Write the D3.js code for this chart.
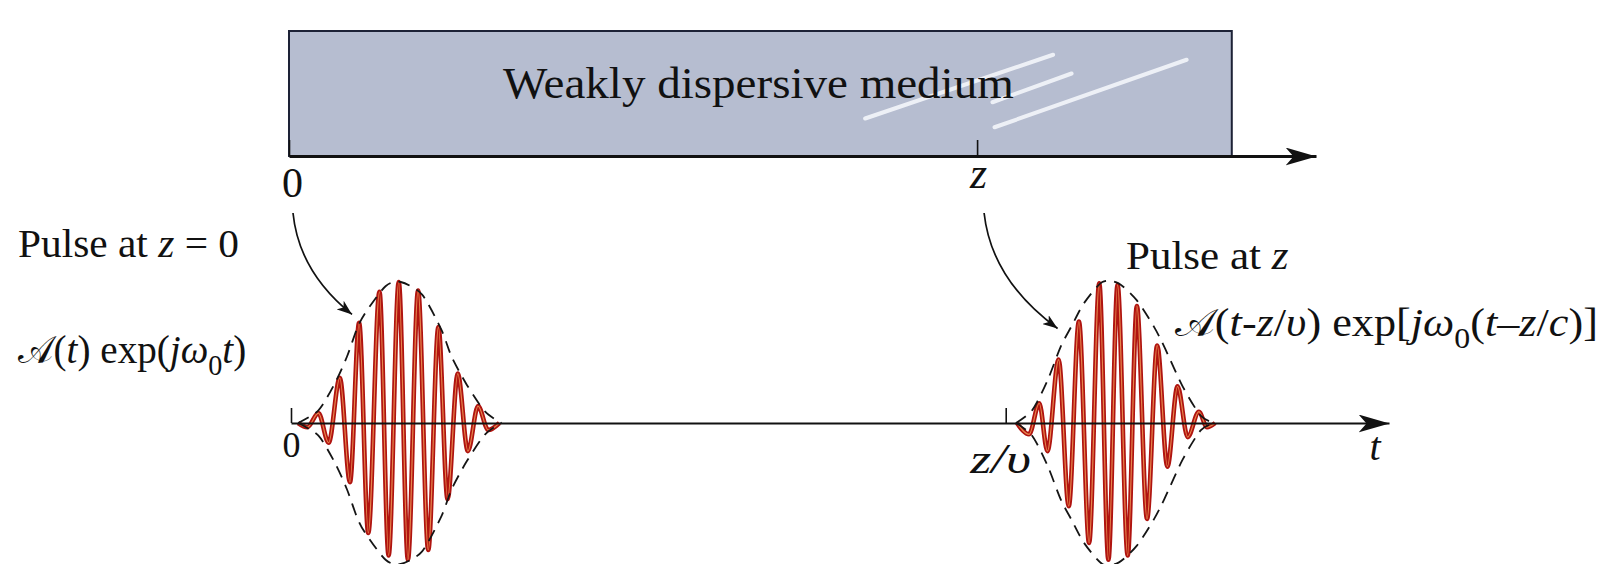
<!DOCTYPE html>
<html lang="en">
<head>
<meta charset="utf-8">
<title>Pulse in a weakly dispersive medium</title>
<script src="https://d3js.org/d3.v7.min.js"></script>
<style>
body{margin:0;background:#fff;overflow:hidden;}
svg{display:block;font-family:"Liberation Serif","Times New Roman",serif;}
</style>
</head>
<body>
<svg id="fig" width="1610" height="564"></svg>
<script>
// ---- data ----
// z axis (position in the medium)
var zTicks = [0, 6.7];
var zTickLabels = ["0", "z"];
var mediumEnd = 9.18;
var mediumLabel = "Weakly dispersive medium";

// t axis
var tTicks = [0, 70.3];
var tTickLabels = ["0", "z/\u03c5"];

// carrier extrema [t, amplitude], pulse at z = 0
var pulse1Carrier = [[0.7,0],[1.6,-0.03],[2.7,0.07],[3.7,-0.14],[4.8,0.32],[5.8,-0.42],[6.7,0.71],
  [7.6,-0.78],[8.7,0.93],[9.6,-0.94],[10.6,1.0],[11.5,-0.97],[12.5,0.94],[13.5,-0.9],[14.5,0.68],
  [15.4,-0.54],[16.4,0.35],[17.4,-0.2],[18.4,0.12],[19.4,-0.05],[20.5,0]];
var pulse1Envelope = [[0.7,0],[2.7,0.09],[4.3,0.28],[5.5,0.47],[6.5,0.67],[7.3,0.78],[9.3,0.97],
  [10.8,1.0],[12.9,0.91],[14.8,0.66],[15.8,0.47],[17.3,0.27],[19.1,0.08],[20.7,0]];

// pulse at z
var pulse2Carrier = [[71.4,0],[72.6,-0.08],[73.6,0.14],[74.4,-0.2],[75.5,0.45],[76.5,-0.59],
  [77.5,0.72],[78.5,-0.85],[79.5,0.99],[80.4,-0.97],[81.3,0.98],[82.3,-0.94],[83.2,0.83],
  [84.2,-0.68],[85.2,0.55],[86.2,-0.31],[87.2,0.26],[88.2,-0.1],[89.3,0.08],[90.1,-0.03],[90.9,0]];
var pulse2Envelope = [[71.3,0],[72.9,0.09],[74.4,0.30],[75.7,0.54],[76.8,0.69],[78.0,0.85],
  [79.8,1.0],[81.4,0.99],[83.2,0.87],[84.9,0.68],[85.9,0.54],[87.7,0.26],[89.5,0.05],[90.9,0]];

// arrow targets [t, amplitude], one per z tick
var arrowTargets = [[6.0, 0.77], [75.4, 0.67]];

// labels: [text, style]  (it = italic, sub = subscript, cal = script letter)
var title1 = [["Pulse at ",""],["z","it"],[" = 0",""]];
var title2 = [["Pulse at ",""],["z","it"]];
var formula1 = [["\ud835\udc9c","cal"],["(",""],["t","it"],[") exp(",""],["j\u03c9","it"],["0","sub"],["t","it"],[")",""]];
var formula2 = [["\ud835\udc9c","cal"],["(",""],["t","it"],["-",""],["z","it"],["/",""],["\u03c5","it"],[") exp[",""],
  ["j\u03c9","it"],["0","sub"],["(",""],["t","it"],["\u2013",""],["z","it"],["/",""],["c","it"],[")]",""]];

// glare streaks on the printed box [z, height in box]
var glare = [[[5.61,0.30],[7.44,0.81]], [[6.85,0.43],[7.62,0.66]], [[6.87,0.23],[8.74,0.77]]];

// ---- drawing ----
var svg = d3.select("#fig");

var zScale = d3.scaleLinear().domain([0, 10]).range([289, 1316]);
var boxY = d3.scaleLinear().domain([0, 1]).range([156, 31]);
var tScale = d3.scaleLinear().domain([0, 108]).range([291, 1389]);
var aScale = d3.scaleLinear().domain([-1, 1]).range([564, 282]);

var defs = svg.append("defs");
function marker(id, len, half, notch) {
  defs.append("marker")
    .attr("id", id)
    .attr("markerUnits", "userSpaceOnUse")
    .attr("viewBox", (-len) + " " + (-half) + " " + len + " " + (2 * half))
    .attr("refX", 0).attr("refY", 0)
    .attr("markerWidth", len).attr("markerHeight", 2 * half)
    .attr("orient", "auto")
    .append("path")
      .attr("d", "M0,0L" + (-len) + "," + (-half) + "L" + (-notch) + ",0L" + (-len) + "," + half + "Z")
      .attr("fill", "#111");
}
marker("bigArrow", 31, 9, 23);
marker("smallArrow", 15, 5.5, 11);

// medium box
svg.append("rect")
  .attr("x", zScale(0)).attr("y", boxY(1))
  .attr("width", zScale(mediumEnd) - zScale(0))
  .attr("height", boxY(0) - boxY(1))
  .attr("fill", "#b6bdd0")
  .attr("stroke", "#1d2236")
  .attr("stroke-width", 2);

svg.selectAll(".glare").data(glare).enter().append("line")
  .attr("class", "glare")
  .attr("x1", function(d) { return zScale(d[0][0]); })
  .attr("y1", function(d) { return boxY(d[0][1]); })
  .attr("x2", function(d) { return zScale(d[1][0]); })
  .attr("y2", function(d) { return boxY(d[1][1]); })
  .attr("stroke", "#f4f6fb").attr("stroke-width", 4).attr("stroke-linecap", "round")
  .attr("opacity", 0.9);

svg.append("text")
  .attr("x", 503).attr("y", 98)
  .attr("font-size", 45).attr("fill", "#111")
  .text(mediumLabel)
  .call(fitWidth, 503, 511);

// z axis
var zAxis = d3.axisBottom(zScale)
  .tickValues(zTicks)
  .tickSize(-16).tickSizeOuter(0)
  .tickFormat(function(d, i) { return zTickLabels[i]; });
var zg = svg.append("g").attr("transform", "translate(0," + boxY(0) + ")").call(zAxis);
zg.attr("font-family", null);
zg.select(".domain").attr("stroke", "#111").attr("stroke-width", 3).attr("marker-end", "url(#bigArrow)");
zg.selectAll(".tick line").attr("stroke", "#111").attr("stroke-width", 1.6);
zg.selectAll(".tick text")
  .attr("font-size", function(d, i) { return i ? 44 : 42; }).attr("fill", "#111")
  .attr("y", 0).attr("dy", null)
  .attr("font-style", function(d, i) { return i ? "italic" : null; })
  .attr("transform", function(d, i) { return "translate(" + (i ? 1 : 3) + "," + (i ? 32 : 41) + ")"; });

// waves
var wave = d3.line()
  .x(function(d) { return tScale(d[0]); })
  .y(function(d) { return aScale(d[1]); })
  .curve(d3.curveMonotoneX);
var env = d3.line()
  .x(function(d) { return tScale(d[0]); })
  .y(function(d) { return aScale(d[1]); })
  .curve(d3.curveCardinal.tension(0.2));

[pulse1Carrier, pulse2Carrier].forEach(function(c) {
  svg.append("path").attr("d", wave(c))
    .attr("fill", "none").attr("stroke", "#b01410").attr("stroke-width", 4.6)
    .attr("stroke-linejoin", "round");
  svg.append("path").attr("d", wave(c))
    .attr("fill", "none").attr("stroke", "#f09a58").attr("stroke-width", 1.2)
    .attr("opacity", 0.85);
});

// t axis
var tAxis = d3.axisBottom(tScale)
  .tickValues(tTicks)
  .tickSize(-15).tickSizeOuter(0)
  .tickFormat(function(d, i) { return tTickLabels[i]; });
var tg = svg.append("g").attr("transform", "translate(0," + aScale(0) + ")").call(tAxis);
tg.attr("font-family", null);
tg.select(".domain").attr("stroke", "#111").attr("stroke-width", 1.8).attr("marker-end", "url(#bigArrow)");
tg.selectAll(".tick line").attr("stroke", "#111").attr("stroke-width", 1.6);
tg.selectAll(".tick text")
  .attr("font-size", function(d, i) { return i ? 42 : 36; }).attr("fill", "#111")
  .attr("y", 0).attr("dy", null)
  .attr("font-style", function(d, i) { return i ? "italic" : null; })
  .attr("transform", function(d, i) { return "translate(0," + (i ? 50 : 34) + ")"; })
  .each(function(d, i) {
    if (i) d3.select(this).attr("text-anchor", "start").attr("x", -36).call(fitWidth, tScale(d) - 36, 62, tScale(d));
  });
tg.append("text")
  .attr("x", tScale.range()[1] - 14).attr("y", 37)
  .attr("font-size", 40).attr("font-style", "italic").attr("fill", "#111")
  .attr("text-anchor", "middle")
  .text("t");

// dashed envelopes (upper and mirrored lower half)
[pulse1Envelope, pulse2Envelope].forEach(function(e) {
  var lower = e.map(function(p) { return [p[0], -p[1]]; });
  [e, lower].forEach(function(half) {
    svg.append("path").attr("d", env(half))
      .attr("fill", "none").attr("stroke", "#151515").attr("stroke-width", 1.8)
      .attr("stroke-dasharray", "12,8");
  });
});

// curved arrows from the z ticks to the pulses
arrowTargets.forEach(function(p, i) {
  var sx = zScale(zTicks[i]) + (i ? 7 : 4), sy = 213;
  var ex = tScale(p[0]), ey = aScale(p[1]);
  var cx = sx + 0.1 * (ex - sx), cy = sy + 0.58 * (ey - sy);
  svg.append("path")
    .attr("d", "M" + sx + "," + sy + "Q" + cx + "," + cy + " " + ex + "," + ey)
    .attr("fill", "none").attr("stroke", "#111").attr("stroke-width", 1.7)
    .attr("marker-end", "url(#smallArrow)");
});

// labels
richText(18, 257, 40, title1).call(fitWidth, 18, 221);
richText(18, 363, 40, formula1).call(fitWidth, 18, 228);
richText(1126, 269, 40, title2).call(fitWidth, 1126, 163);
richText(1175, 336, 40, formula2).call(fitWidth, 1175, 423);

function richText(x, y, size, segs) {
  var t = svg.append("text").attr("x", x).attr("y", y).attr("font-size", size).attr("fill", "#111");
  var shift = 0;
  segs.forEach(function(s) {
    var ts = t.append("tspan").text(s[0]);
    var target = s[1] === "sub" ? size * 0.3 : 0;
    if (s[1] === "it") ts.attr("font-style", "italic");
    if (s[1] === "sub") ts.attr("font-size", size * 0.72);
    if (s[1] === "cal") ts.attr("font-size", size * 0.95);
    if (target !== shift) { ts.attr("dy", target - shift); shift = target; }
  });
  return t;
}

// stretch a text horizontally so it spans w pixels from x0;
// tx is the offset of the element's own coordinate system (for texts inside a translated group)
function fitWidth(sel, x0, w, tx) {
  tx = tx || 0;
  var bw = sel.node().getBBox().width;
  var k = w / bw;
  var lx = x0 - tx;
  var prev = sel.attr("transform") || "";
  sel.attr("transform", prev + " translate(" + lx + ",0) scale(" + k + ",1) translate(" + (-lx) + ",0)");
}
</script>
</body>
</html>
